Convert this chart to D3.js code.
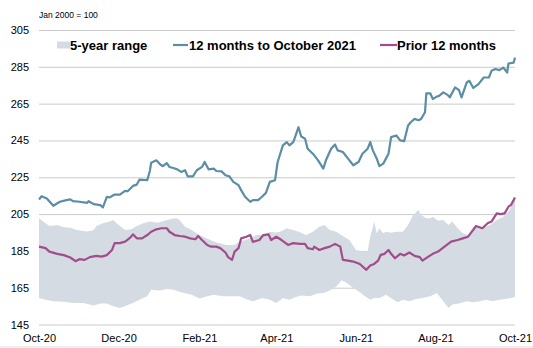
<!DOCTYPE html>
<html>
<head>
<meta charset="utf-8">
<script src="https://cdn.jsdelivr.net/npm/d3@7"></script>
<style>
  html, body { margin: 0; padding: 0; background: #fff; }
  svg { display: block; font-family: "Liberation Sans", Arial, sans-serif; }
</style>
</head>
<body>
<svg id="chart" width="533" height="348"></svg>
<script>
// ---------------- DATA (day = days since 1 Oct 2020) ----------------
const yTicks = [145, 165, 185, 205, 225, 245, 265, 285, 305];
const xTickLabels = ["Oct-20", "Dec-20", "Feb-21", "Apr-21", "Jun-21", "Aug-21", "Oct-21"];
const seriesNames = ["5-year range", "12 months to October 2021", "Prior 12 months"];
const baseNote = "Jan 2000 = 100";

const recentDays = [0,2,6,11,16,21,24,26,31,37,38,42,47,49,52,54,58,62,66,68,72,75,77,83,85,86,90,93,95,98,100,103,106,109,112,114,118,121,125,127,130,134,136,140,143,146,149,153,155,158,162,164,168,171,174,177,181,183,187,190,192,195,199,201,204,206,210,214,218,220,224,227,229,233,237,241,245,248,252,254,256,259,261,264,268,270,274,277,280,283,285,288,291,293,296,297,300,302,305,307,310,313,315,319,322,324,328,330,333,337,341,345,347,350,353,356,359,360,364,365];
const recentVals = [212.9,214.7,213.5,209.5,211.7,212.6,213,212,211.7,211.1,212,210.4,209.9,208.6,214.4,214,215.6,215.6,217.6,217.4,220.3,221,223.7,223.4,228.4,232.9,234.2,231.9,231,232.7,230.6,230,229.3,227.9,228.8,225.5,225.5,228.8,230.6,233.3,229.3,229.7,228.4,228.2,226.1,225.5,222.5,220.7,218,214.4,211.7,212.6,212.6,214.4,216.5,222.5,223.4,233.3,242.3,244.1,242.3,244.1,252.2,247.2,245.9,240.5,237.8,234.2,229.7,234.2,240.5,242.8,239.6,238.7,235.1,231.5,233.3,237.8,240.5,244.1,239.6,235.1,231,232.4,237.8,246.8,247.7,245,244.6,253.1,254.9,256.7,256,256.7,260.3,270.6,270.6,267.5,268.8,269.3,271.1,269.9,268.4,273.8,272.4,268.4,276.5,277.4,273.5,275.6,279.2,279.2,282.8,283.8,283.2,284.6,281.9,286.8,287.3,290];

const priorDays = [0,5,8,14,19,24,28,31,35,39,44,48,52,56,58,62,66,70,72,75,79,83,86,90,94,98,100,104,108,112,116,120,122,125,129,132,136,139,143,145,148,150,153,155,159,162,164,169,172,176,178,182,186,191,195,200,204,206,210,211,215,219,223,227,231,233,237,241,246,251,254,257,260,262,265,268,270,273,277,280,284,288,292,294,298,302,306,311,316,321,325,329,333,335,340,344,347,351,354,357,360,362,365];
const priorVals = [187.3,186.5,184.6,183.4,182.7,181.4,179.4,180.5,180.1,181.6,182.3,181.9,182.7,185.5,189.2,189.2,190,192.2,194,191.8,191.8,193.6,195.4,196.7,197.3,197.3,195.4,193.6,193.1,192.7,191.8,191.3,193.1,190.9,188.2,187.3,187.3,186.5,184.1,181.6,180.1,184.6,186.5,191.8,192.7,193.6,189.9,190.9,193.6,194,190.9,192.7,190.9,188.2,189.2,188.8,188.8,186.5,185.9,187.3,185.5,186.5,187.3,188.8,187.3,180.1,179.7,179.2,177.9,174.7,177,177.9,179.7,182.8,183.4,185.5,183.4,181,183.4,182.5,184.1,182.3,181.6,179.7,181.6,183.4,184.6,187.3,190,190.9,191.8,192.7,196.4,198.5,197.3,200,200.9,205.4,205,205.4,209,210,214];

const rangeHighDays = [0,5,8,14,19,24,29,37,42,44,49,54,57,61,66,71,75,80,85,91,98,104,107,112,117,123,130,136,144,150,154,160,167,172,177,181,185,190,195,199,205,210,215,219,223,228,233,238,243,248,252,254,256,257,259,261,264,266,270,274,279,283,287,291,293,297,300,302,306,310,314,317,321,325,329,333,338,342,346,351,356,361,365];
const rangeHigh = [202.7,200,198.5,199,197.8,197.6,196.4,195.5,196.4,198.5,200,200.9,201.8,199,196.4,196.7,198.5,200,200.9,200.3,201.8,202.7,202.3,198.1,196.4,193.6,191.3,189.5,188.2,188.2,190,191.3,193.6,193.6,195.4,195,195.4,197.3,196.4,195.4,193.6,195.4,198.1,199,196.4,195.4,193.1,190.9,185.5,184.6,184.6,192.7,198.1,200.9,194.6,197.3,194.6,195.4,194.9,195.4,195.4,199,204.5,207.2,204.5,202.7,202.7,203.6,201.4,201.8,199,200.9,197.3,194.6,193.6,198.1,197.3,198.1,199,201.8,203.6,207.2,214];

const rangeLowDays = [0,5,11,19,26,34,42,47,52,57,62,67,72,77,83,86,93,98,103,109,117,123,129,134,141,149,154,160,164,171,177,182,187,192,197,201,208,213,218,223,228,232,236,241,246,250,254,257,261,266,271,275,279,284,289,294,300,305,310,314,317,322,328,333,338,343,348,353,358,365];
const rangeLow = [159.4,158.5,157.6,157.3,156.7,156.7,155.3,156.4,156.4,154.9,154,155.3,156.7,158.5,160.3,163.9,163.5,164.3,163.9,162.5,161.2,159.1,160.3,161.2,160.3,160.3,160.3,158.5,157.6,159.4,158.5,156.7,159.4,158.5,160,160.7,160.3,161.8,162.1,163.5,165.7,169,167.5,164.8,162.5,160.3,158.5,159.4,159.4,161.2,158.9,157.1,158.5,157.6,158.9,159.4,160.3,162.1,157.6,154,155.8,156.4,157.6,157.1,157.6,158.5,157.6,158.5,158.9,160];

// ---------------- CHART ----------------
const colors = { range: "#d5dbe3", recent: "#5b8ea3", prior: "#a14d8a", grid: "#cbcbcb", text: "#000" };
const startDate = new Date(2020, 9, 1);
const toDate = d => d3.timeDay.offset(startDate, d);
const parseTick = d3.timeParse("%b-%y");

const svg = d3.select("#chart");
const plotL = 39, plotR = 515, plotT = 30, plotB = 324.5;

const x = d3.scaleTime().domain([startDate, new Date(2021, 9, 1)]).range([plotL, plotR]);
const y = d3.scaleLinear().domain([145, 305]).range([plotB, plotT]);

// gridlines + y labels
const yAxis = svg.append("g").attr("transform", `translate(${plotL},0)`)
  .call(d3.axisLeft(y).tickValues(yTicks).tickSize(-(plotR - plotL)).tickPadding(10).tickFormat(d3.format("d")));
yAxis.select(".domain").remove();
yAxis.selectAll(".tick line").attr("stroke", colors.grid).attr("stroke-width", 1);
yAxis.selectAll(".tick text").attr("font-size", 11).attr("fill", colors.text)
  .attr("font-family", "'Liberation Sans', Arial, sans-serif");

// x labels
const xAxis = svg.append("g").attr("transform", `translate(0,${plotB})`)
  .call(d3.axisBottom(x).tickValues(xTickLabels.map(parseTick)).tickSize(0).tickPadding(10)
    .tickFormat((d, i) => xTickLabels[i]));
xAxis.select(".domain").remove();
xAxis.selectAll(".tick text").attr("font-size", 11).attr("fill", colors.text)
  .attr("font-family", "'Liberation Sans', Arial, sans-serif");

// range band as polygon (upper forward, lower backward)
const bandPts = rangeHighDays.map((d, i) => [toDate(d), rangeHigh[i]])
  .concat(rangeLowDays.map((d, i) => [toDate(d), rangeLow[i]]).reverse());
const polyLine = d3.line().x(p => x(p[0])).y(p => y(p[1]));
svg.append("path").attr("d", polyLine(bandPts) + "Z").attr("fill", colors.range).attr("stroke", "none");

// lines
const lineGen = d3.line().x(p => x(p[0])).y(p => y(p[1])).curve(d3.curveLinear);
svg.append("path")
  .attr("d", lineGen(priorDays.map((d, i) => [toDate(d), priorVals[i]])))
  .attr("fill", "none").attr("stroke", colors.prior).attr("stroke-width", 2.2).attr("stroke-linejoin", "round");
svg.append("path")
  .attr("d", lineGen(recentDays.map((d, i) => [toDate(d), recentVals[i]])))
  .attr("fill", "none").attr("stroke", colors.recent).attr("stroke-width", 2.2).attr("stroke-linejoin", "round");

// note
svg.append("text").attr("x", 39).attr("y", 18).attr("font-size", 8.5).attr("fill", colors.text)
  .text(baseNote);

// legend
const legendY = 45;
const lg = svg.append("g").attr("font-size", 13).attr("font-weight", "bold").attr("fill", colors.text);
lg.append("rect").attr("x", 57).attr("y", legendY - 3.5).attr("width", 13).attr("height", 7).attr("fill", colors.range);
lg.append("text").attr("x", 70).attr("y", legendY + 4.5).text(seriesNames[0]);
lg.append("line").attr("x1", 173).attr("x2", 188).attr("y1", legendY).attr("y2", legendY)
  .attr("stroke", colors.recent).attr("stroke-width", 2.2);
lg.append("text").attr("x", 189).attr("y", legendY + 4.5).text(seriesNames[1]);
lg.append("line").attr("x1", 380).attr("x2", 397).attr("y1", legendY).attr("y2", legendY)
  .attr("stroke", colors.prior).attr("stroke-width", 2.2);
lg.append("text").attr("x", 397).attr("y", legendY + 4.5).text(seriesNames[2]);

// bottom frame line
svg.append("line").attr("x1", 0).attr("x2", 533).attr("y1", 347).attr("y2", 347)
  .attr("stroke", "#dcdcdc").attr("stroke-width", 1);
</script>
</body>
</html>
